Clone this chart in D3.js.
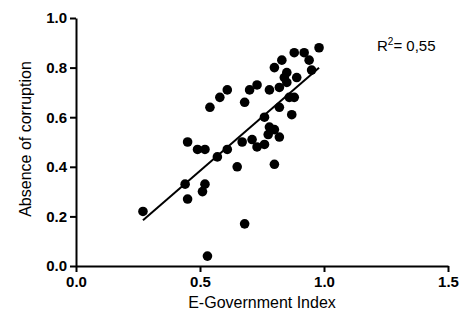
<!DOCTYPE html>
<html>
<head>
<meta charset="utf-8">
<script src="https://cdn.jsdelivr.net/npm/d3@7"></script>
<style>
  body { margin: 0; background: #fff; }
  svg { display: block; }
</style>
</head>
<body>
<div id="chart"></div>
<script>
// E-Government Index vs absence of corruption
var egov = [0.27, 0.44, 0.45, 0.45, 0.49, 0.51, 0.52, 0.52, 0.53, 0.54,
  0.57, 0.58, 0.61, 0.61, 0.65, 0.67, 0.68, 0.68, 0.70, 0.71,
  0.73, 0.73, 0.76, 0.76, 0.775, 0.78, 0.78, 0.80, 0.80, 0.80,
  0.82, 0.82, 0.82, 0.83, 0.84, 0.85, 0.85, 0.86, 0.88, 0.87,
  0.88, 0.89, 0.92, 0.94, 0.95, 0.98];
var corruption = [0.22, 0.33, 0.27, 0.50, 0.47, 0.30, 0.33, 0.47, 0.04, 0.64,
  0.44, 0.68, 0.47, 0.71, 0.40, 0.50, 0.17, 0.66, 0.71, 0.51,
  0.48, 0.73, 0.49, 0.60, 0.53, 0.56, 0.71, 0.41, 0.55, 0.80,
  0.52, 0.64, 0.72, 0.83, 0.76, 0.74, 0.78, 0.68, 0.68, 0.61,
  0.86, 0.76, 0.86, 0.83, 0.79, 0.88];

// fitted line
var fitX = [0.27, 0.98];
var slope = 0.866, intercept = -0.049;

var xTicks = [0, 0.5, 1.0, 1.5];
var yTicks = [0, 0.2, 0.4, 0.6, 0.8, 1.0];

var margin = { top: 18, right: 19, bottom: 65, left: 76 },
  width = 467 - margin.left - margin.right,
  height = 331 - margin.top - margin.bottom;

var svg = d3.select("#chart")
  .append("svg")
  .attr("width", 467)
  .attr("height", 331)
  .append("g")
  .attr("transform", "translate(" + margin.left + "," + margin.top + ")");

var x = d3.scaleLinear().domain([0, 1.5]).range([0, width]);
var y = d3.scaleLinear().domain([0, 1.0]).range([height, 0]);

// X axis
var gx = svg.append("g")
  .attr("transform", "translate(0," + height + ")")
  .call(d3.axisBottom(x).tickValues(xTicks).tickFormat(d3.format(".1f"))
    .tickSize(6).tickSizeOuter(0).tickPadding(4));

// Y axis
var gy = svg.append("g")
  .call(d3.axisLeft(y).tickValues(yTicks).tickFormat(d3.format(".1f"))
    .tickSize(6).tickSizeOuter(0).tickPadding(3));

[gx, gy].forEach(function (g) {
  g.selectAll("path, line").attr("stroke", "#000").attr("stroke-width", 2);
  g.selectAll("text")
    .attr("fill", "#000")
    .style("font-family", "'Liberation Sans', Arial, sans-serif")
    .style("font-size", "15px")
    .style("font-weight", "bold");
});

// regression line
svg.append("path")
  .datum(fitX)
  .attr("fill", "none")
  .attr("stroke", "#000")
  .attr("stroke-width", 2)
  .attr("d", d3.line()
    .x(function (d) { return x(d) })
    .y(function (d) { return y(slope * d + intercept) })
  );

// dots
svg.selectAll("dot")
  .data(egov)
  .enter()
  .append("circle")
  .attr("cx", function (d) { return x(d) })
  .attr("cy", function (d, i) { return y(corruption[i]) })
  .attr("r", 4.8)
  .attr("fill", "#000");

// axis titles
svg.append("text")
  .attr("x", width / 2)
  .attr("y", height + 42)
  .attr("text-anchor", "middle")
  .style("font-family", "'Liberation Sans', Arial, sans-serif")
  .style("font-size", "16px")
  .text("E-Government Index");

svg.append("text")
  .attr("transform", "rotate(-90)")
  .attr("x", -height / 2 + 3)
  .attr("y", -45)
  .attr("text-anchor", "middle")
  .style("font-family", "'Liberation Sans', Arial, sans-serif")
  .style("font-size", "16px")
  .text("Absence of corruption");

// R squared
var r2 = svg.append("text")
  .attr("x", 301)
  .attr("y", 33)
  .style("font-family", "'Liberation Sans', Arial, sans-serif")
  .style("font-size", "15px");
r2.append("tspan").text("R");
r2.append("tspan").attr("dy", -6).style("font-size", "10px").text("2");
r2.append("tspan").attr("dy", 6).text("= 0,55");
</script>
</body>
</html>
